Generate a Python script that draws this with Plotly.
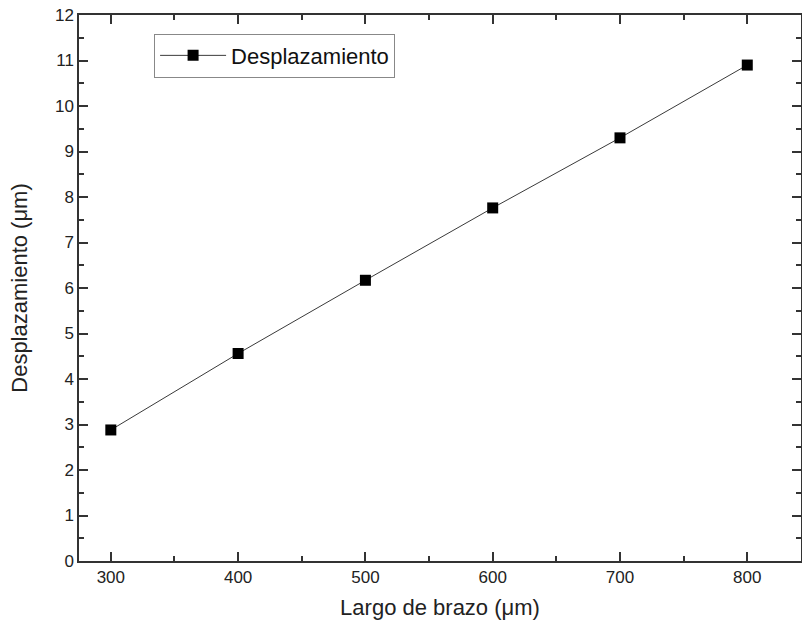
import plotly.graph_objects as go

largo = [300, 400, 500, 600, 700, 800]
desplazamiento = [2.88, 4.56, 6.17, 7.76, 9.30, 10.90]
series_name = "Desplazamiento"
x_title = "Largo de brazo (μm)"
y_title = "Desplazamiento (μm)"

FONT = "Liberation Sans, Arial, sans-serif"

fig = go.Figure()
fig.add_trace(go.Scatter(
    x=largo, y=desplazamiento, mode="lines+markers", name=series_name,
    line=dict(color="#3a3a3a", width=1),
    marker=dict(symbol="square", size=11, color="black"),
))

axis_common = dict(
    showline=True, linecolor="#333", linewidth=1.5, mirror="ticks",
    ticks="inside", tickcolor="#333", tickwidth=1.5, ticklen=9,
    showgrid=False, zeroline=False, ticklabeloverflow="allow",
    tickfont=dict(family=FONT, size=17, color="#222"),
)
fig.update_xaxes(
    range=[275, 842.2], tickmode="linear", tick0=300, dtick=100,
    minor=dict(ticks="inside", ticklen=5, tick0=300, dtick=50, tickcolor="#333", tickwidth=1.5, showgrid=False),
    title=dict(text=x_title, font=dict(family=FONT, size=22, color="#222"), standoff=13),
    **axis_common)
fig.update_yaxes(
    range=[0, 12], tickmode="linear", tick0=0, dtick=1,
    minor=dict(ticks="inside", ticklen=5, dtick=0.5, tickcolor="#333", tickwidth=1.5, showgrid=False),
    title=dict(text=y_title, font=dict(family=FONT, size=22, color="#222"), standoff=21),
    **axis_common)

fig.update_layout(
    width=802, height=633,
    margin=dict(l=79, r=1, t=15, b=72, autoexpand=False),
    plot_bgcolor="white", paper_bgcolor="white",
    showlegend=True,
    legend=dict(x=0.104, y=0.966, xanchor="left", yanchor="top",
                bordercolor="#888", borderwidth=1, bgcolor="white",
                itemwidth=66,
                font=dict(family=FONT, size=22, color="#111")),
)
# remove the browser's default 8px body margin so the figure fills the window exactly
fig.write_html("out.html", config={"displayModeBar": False},
               post_script="document.body.style.margin='0';")
